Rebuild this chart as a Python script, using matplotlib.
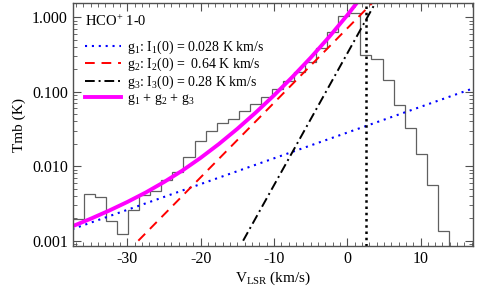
import numpy as np
import matplotlib
matplotlib.use('Agg')
import matplotlib.pyplot as plt
from matplotlib.ticker import MultipleLocator, LogLocator, FixedLocator, NullFormatter

plt.rcParams['font.family'] = ['Liberation Serif', 'DejaVu Serif']
plt.rcParams['mathtext.fontset'] = 'custom'
plt.rcParams['mathtext.rm'] = 'Liberation Serif'
plt.rcParams['mathtext.it'] = 'Liberation Serif:italic'
plt.rcParams['axes.unicode_minus'] = False

# =====================
# DATA
# =====================
# channel edges of the observed spectrum (km/s)
chan_edges = [-37.43, -35.92, -34.41, -32.90, -31.39, -29.89, -28.38, -26.87,
              -25.36, -23.85, -22.34, -20.83, -19.32, -17.81, -16.30, -14.80,
              -13.29, -11.78, -10.27, -8.76, -7.25, -5.74, -4.23, -2.72,
              -1.21, 0.29, 1.80, 3.31, 4.82, 6.33, 7.84, 9.35, 10.86, 12.37,
              13.88, 15.38, 16.89, 18.40]
# observed Tmb (K) per channel
tmb_obs = [0.00195, 0.00420, 0.00390, 0.00186, 0.00122, 0.00258, 0.00411,
           0.00469, 0.00653, 0.00845, 0.0134, 0.0220, 0.0297, 0.0386, 0.0430,
           0.0547, 0.0679, 0.0859, 0.109, 0.140, 0.186, 0.253, 0.391, 0.629,
           1.05, 1.13, 0.312, 0.273, 0.144, 0.0654, 0.0329, 0.0144, 0.00560,
           0.00135, 0.0004, 0.0004, 0.0004]

# fitted components (straight on the log axis)
g1_v = [-37.5, 17.2]
g1_t = [0.00143, 0.111]
g2_v = [-28.5, 3.5]
g2_t = [0.001, 1.585]
g3_v = [-14.2, 4.0]
g3_t = [0.001, 1.66]

# sum g1 + g2 + g3
sum_v = [-37.5, -35, -32.5, -30, -27.5, -25, -22.5, -20, -17.5, -15,
         -12.5, -10, -7.5, -5, -2.5, 0, 2.5]
sum_t = [0.00156, 0.00197, 0.00253, 0.00331, 0.00443, 0.00612, 0.00873,
         0.01294, 0.01988, 0.0317, 0.0523, 0.0891, 0.157, 0.285, 0.539,
         1.062, 2.197]

v_sys = 2.5

labels = [r'g$_1$: I$_1$(0) = 0.028 K km/s',
          r'g$_2$: I$_2$(0) =  0.64 K km/s',
          r'g$_3$: I$_3$(0) = 0.28 K km/s',
          r'g$_1$ + g$_2$ + g$_3$']

# =====================
# PLOT
# =====================
fig = plt.figure(figsize=(4.8, 2.88), dpi=100)
ax = fig.add_axes([0.1515, 0.146, 0.8345, 0.842])

ax.stairs(tmb_obs, chan_edges, baseline=None, color='#606060', lw=0.9)

l1, = ax.plot(g1_v, g1_t, color='blue', lw=1.5, ls=(0, (1, 2.3)))
l2, = ax.plot(g2_v, g2_t, color='red', lw=1.4, ls=(0, (5, 3.5)))
l3, = ax.plot(g3_v, g3_t, color='black', lw=1.4, ls=(0, (5, 2, 1, 2)))
l4, = ax.plot(sum_v, sum_t, color='magenta', lw=2.8)
ax.axvline(v_sys, color='black', lw=1.8, ls=(0, (1, 1.5)))

ax.set_yscale('log')
ax.set_xlim(-37.45, 17.2)
ax.set_ylim(0.00085, 1.53)

ax.yaxis.set_major_locator(FixedLocator([0.001, 0.01, 0.1, 1.0]))
ax.set_yticklabels(['0.001', '0.010', '0.100', '1.000'])
ax.yaxis.set_minor_locator(LogLocator(base=10, subs=np.arange(2, 10)))
ax.yaxis.set_minor_formatter(NullFormatter())
ax.xaxis.set_major_locator(MultipleLocator(10))
ax.xaxis.set_minor_locator(MultipleLocator(1))

frame_col = '#505050'
for s in ax.spines.values():
    s.set_color(frame_col)
    s.set_linewidth(1.0)
ax.tick_params(which='both', direction='in', top=True, right=True,
               color=frame_col, labelsize=11.5)
ax.tick_params(which='major', length=6, width=0.8)
ax.tick_params(which='minor', length=3, width=0.6)

ax.set_xlabel(r'V$_{\rm LSR}$ (km/s)', fontsize=11, labelpad=2)
ax.set_ylabel('Tmb (K)', fontsize=11, labelpad=4)

ax.text(0.031, 0.925, r'HCO$^{+}$ 1-0', transform=ax.transAxes,
        fontsize=10.5, va='center', ha='left')

ax.legend([l1, l2, l3, l4], labels, loc='upper left',
          bbox_to_anchor=(0.031, 0.855), frameon=False, fontsize=10,
          handlelength=2.6, handletextpad=0.4, labelspacing=0.0,
          borderaxespad=0, borderpad=0)

fig.savefig('out.png', dpi=100)
